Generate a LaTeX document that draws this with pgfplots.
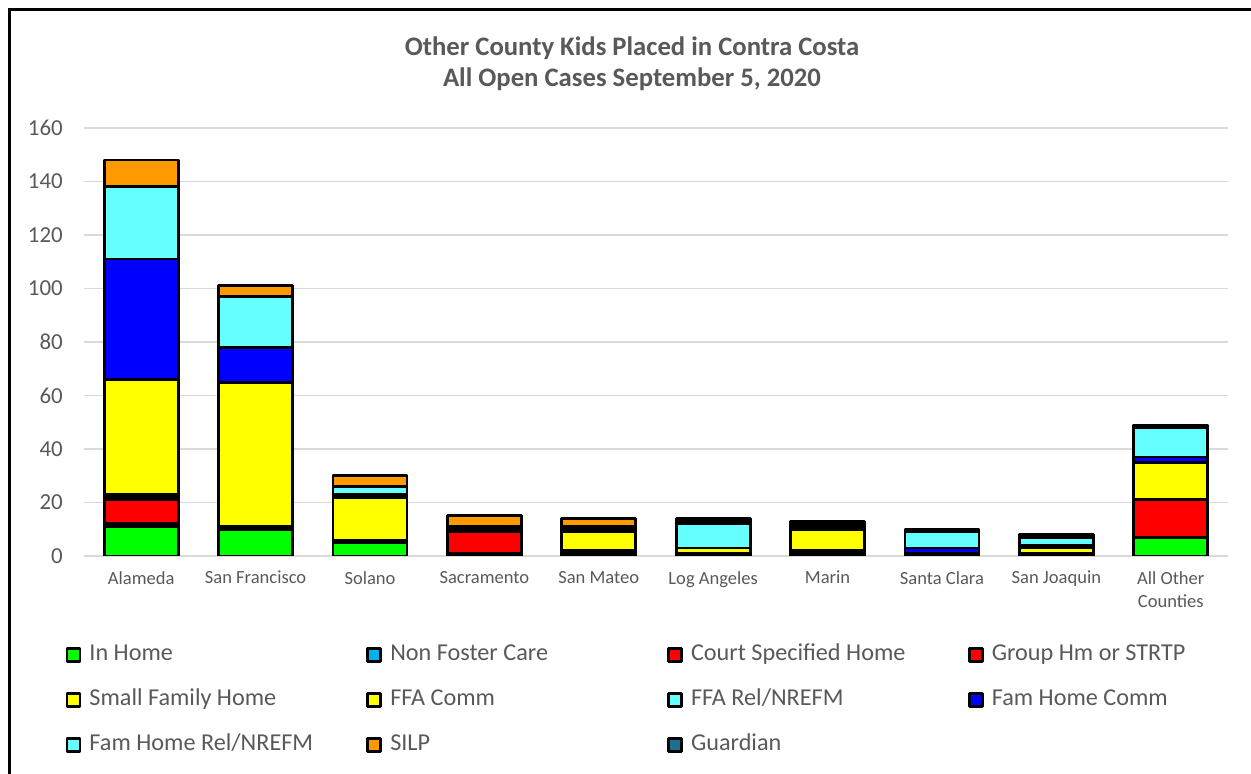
\documentclass[border=0pt]{standalone}
\usepackage{fontspec}
\setmainfont{Carlito}
\usepackage{pgfplots}
\usepackage{pgfplotstable}
\pgfplotsset{compat=1.18}
\definecolor{cgreen}{HTML}{00FF00}
\definecolor{cnonfoster}{HTML}{00B0F0}
\definecolor{cred}{HTML}{FF0000}
\definecolor{cyellow}{HTML}{FFFF00}
\definecolor{ccyan}{HTML}{66FFFF}
\definecolor{cblue}{HTML}{0000FF}
\definecolor{corange}{HTML}{FF9900}
\definecolor{cguardian}{HTML}{1B6F8F}
\definecolor{textgray}{HTML}{595959}
\definecolor{gridgray}{HTML}{D9D9D9}
\newcommand{\lb}[1]{\makebox[268bp][l]{#1}}

\pgfplotstableread{
x InHome NonFoster Court Group SmallFam FFAComm FFARel FamComm FamRel SILP Guardian
0 11 1 9 1 1 43 0 45 27 10 0
1 10 0 0 1 0 54 0 13 19 4 0
2 5 0 0 1 0 16 0 1 3 4 0
3 1 0 0 8 1 1 0 0 0 4 0
4 0 0 1 1 0 7 0 1 1 3 0
5 0 0 0 0 1 2 9 1 0 1 0
6 1 0 0 1 0 8 0 1 1 1 0
7 0 0 0 1 0 0 0 2 6 1 0
8 0 0 0 0 1 2 0 1 3 1 0
9 7 0 0 14 0 14 0 2 11 1 0
}\datatable

\begin{document}
\begin{tikzpicture}[x=1bp,y=1bp]
\path[use as bounding box] (0,0) rectangle (1251,774);
\fill[white] (0,0) rectangle (1251,774);
\draw[black, line width=2.5bp] (9.5,0) -- (9.5,764.5) -- (1251,764.5);
\node[font=\fontsize{26.8}{31}\selectfont\bfseries, text=textgray, align=center] at (632,710.5)
  {Other County Kids Placed in Contra Costa\\All Open Cases September 5, 2020};
\begin{axis}[
  at={(84bp,218bp)}, anchor=south west,
  width=1144bp, height=428bp, scale only axis,
  xmin=-0.5, xmax=9.5, ymin=0, ymax=160,
  ybar stacked, bar width=74bp,
  ytick={0,20,...,160},
  xtick={0,...,9},
  xticklabels={Alameda,San Francisco,Solano,Sacramento,San Mateo,Log Angeles,Marin,Santa Clara,San Joaquin,{All Other\\Counties}},
  ymajorgrids, grid style={line width=1.5bp, color=gridgray},
  axis line style={draw=none}, major tick length=0pt,
  /pgf/number format/assume math mode=true,
  xticklabel style={font=\fontsize{18.6}{23.5}\selectfont, text=textgray, align=center, anchor=north, inner sep=0pt, yshift=-15bp},
  yticklabel style={font=\fontsize{23}{27}\selectfont, text=textgray, anchor=east, inner sep=0pt, xshift=-21bp},
  every axis plot/.append style={draw=black, line width=2.8bp, line join=round},
  legend image code/.code={\draw[#1, line width=2.8bp] (0bp,-6.5bp) rectangle (13bp,6.5bp);},
  legend columns=4,
  legend cell align=left,
  legend style={at={(axis description cs:-0.0162,-0.205)}, anchor=north west, draw=none, fill=none,
    inner sep=0pt, row sep=23bp, column sep=0bp,
    font=\fontsize{24.3}{27}\selectfont, text=textgray,
    /tikz/every odd column/.append style={column sep=5bp},
    /tikz/every even column/.append style={column sep=6bp},
    nodes={inner xsep=3bp, inner ysep=0pt, text height=17bp, text depth=5bp}},
]
\addplot[fill=cgreen] table[x=x,y=InHome]{\datatable};
\addplot[fill=cnonfoster] table[x=x,y=NonFoster]{\datatable};
\addplot[fill=cred] table[x=x,y=Court]{\datatable};
\addplot[fill=cred] table[x=x,y=Group]{\datatable};
\addplot[fill=cyellow] table[x=x,y=SmallFam]{\datatable};
\addplot[fill=cyellow] table[x=x,y=FFAComm]{\datatable};
\addplot[fill=ccyan] table[x=x,y=FFARel]{\datatable};
\addplot[fill=cblue] table[x=x,y=FamComm]{\datatable};
\addplot[fill=ccyan] table[x=x,y=FamRel]{\datatable};
\addplot[fill=corange] table[x=x,y=SILP]{\datatable};
\addplot[fill=cguardian, draw=none] table[x=x,y=Guardian]{\datatable};
\legend{\lb{In Home},\lb{Non Foster Care},\lb{Court Specified Home},\lb{Group Hm or STRTP},\lb{Small Family Home},\lb{FFA Comm},\lb{FFA Rel/NREFM},\lb{Fam Home Comm},\lb{Fam Home Rel/NREFM},\lb{SILP},\lb{Guardian}}
\end{axis}
\end{tikzpicture}
\end{document}
